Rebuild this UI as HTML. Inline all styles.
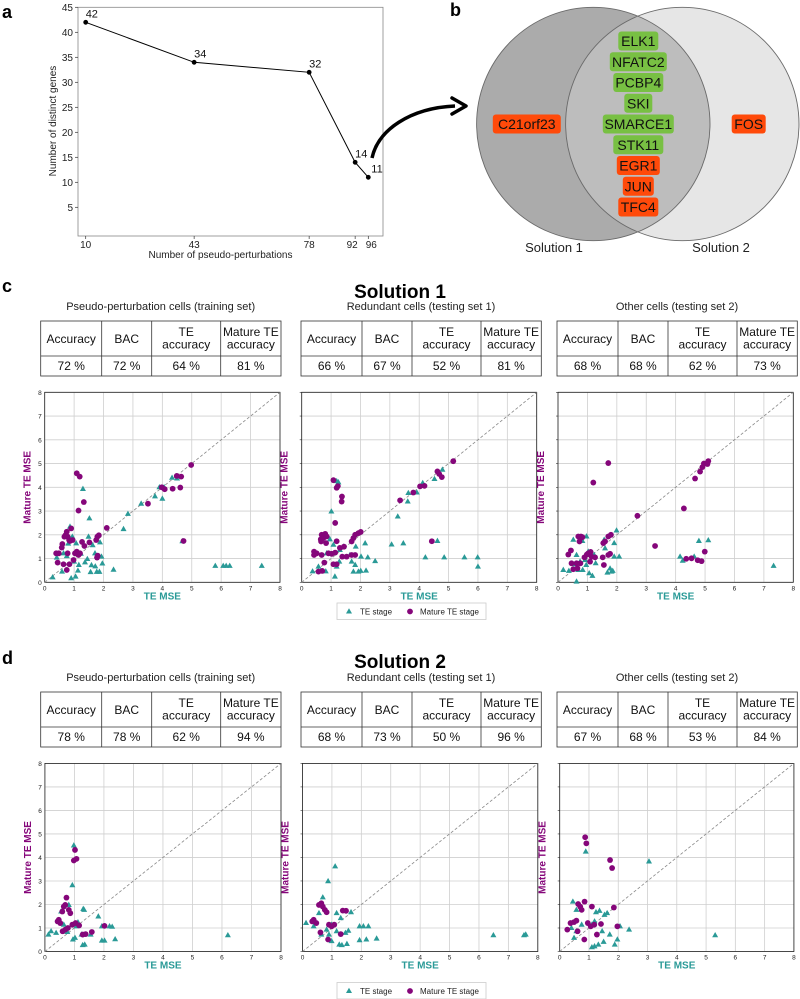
<!DOCTYPE html>
<html><head><meta charset="utf-8"><style>
html,body{margin:0;padding:0;background:#fff;}
svg{display:block;font-family:"Liberation Sans","DejaVu Sans",sans-serif;}
</style></head><body>
<svg id="fig" width="800" height="999" viewBox="0 0 800 999" xmlns="http://www.w3.org/2000/svg">
<defs>
<clipPath id="leftClip"><circle cx="593.3" cy="124" r="116.7"/></clipPath>
</defs>
<text x="2" y="18" font-size="18" font-weight="bold">a</text>
<text x="450" y="16" font-size="18" font-weight="bold">b</text>
<text x="2" y="292" font-size="18" font-weight="bold">c</text>
<text x="2" y="664" font-size="18" font-weight="bold">d</text>
<g id="lineChart"></g>
<g id="venn">
<circle cx="593.3" cy="124" r="116.7" fill="#ababab"/>
<circle cx="682.3" cy="124" r="116.7" fill="#e6e6e6"/>
<circle cx="682.3" cy="124" r="116.7" fill="#bdbdbd" clip-path="url(#leftClip)"/>
<circle cx="593.3" cy="124" r="116.7" fill="none" stroke="#6a6a6a" stroke-width="0.9"/>
<circle cx="682.3" cy="124" r="116.7" fill="none" stroke="#6a6a6a" stroke-width="0.9"/>
<text x="554" y="252" font-size="13" text-anchor="middle" fill="#222">Solution 1</text>
<text x="721" y="252" font-size="13" text-anchor="middle" fill="#222">Solution 2</text>
<path d="M372,158 C378,130 410,108 455,106" fill="none" stroke="#000" stroke-width="3.5"/>
<path d="M452,98 L466,106 L452,114" fill="none" stroke="#000" stroke-width="3.5" stroke-linecap="round" stroke-linejoin="round"/>
</g>
<g id="genes"></g>
<text x="400" y="298" font-size="19" font-weight="bold" text-anchor="middle">Solution 1</text>
<text x="400" y="668" font-size="19" font-weight="bold" text-anchor="middle">Solution 2</text>
<g id="tables"></g>
<g id="scatters"></g>
</svg>
<script>
const NS="http://www.w3.org/2000/svg";
const svg=document.getElementById('fig');
function mk(tag,attrs,parent){const e=document.createElementNS(NS,tag);for(const k in attrs)e.setAttribute(k,attrs[k]);(parent||svg).appendChild(e);return e;}

/* ---------- line chart data ---------- */
const perturbations=[10,43,78,92,96];
const distinctGenes=[42,34,32,14,11];
const lineYTicks=[5,10,15,20,25,30,35,40,45];

/* ---------- venn gene data ---------- */
const sharedGenes=["ELK1","NFATC2","PCBP4","SKI","SMARCE1","STK11","EGR1","JUN","TFC4"];
const sharedColors=["g","g","g","g","g","g","r","r","r"];

/* ---------- tables ---------- */
const tableHeaders=["Accuracy","BAC","TE\naccuracy","Mature TE\naccuracy"];
const subtitles=["Pseudo-perturbation cells (training set)","Redundant cells (testing set 1)","Other cells (testing set 2)"];
const sol1Values=[["72 %","72 %","64 %","81 %"],["66 %","67 %","52 %","81 %"],["68 %","68 %","62 %","73 %"]];
const sol2Values=[["78 %","78 %","62 %","94 %"],["68 %","73 %","50 %","96 %"],["67 %","68 %","53 %","84 %"]];

/* ---------- scatter data: solution 1 ---------- */
const s1p1TeX=[0.27,1.30,1.52,2.34,2.68,2.83,3.28,3.75,3.9,4.0,4.06,4.33,4.5,4.68,5.8,6.07,6.17,6.29,7.38,0.41,0.59,0.75,0.8,0.9,1.0,1.05,1.13,1.16,1.23,1.37,1.45,1.56,1.59,1.63,1.72,1.77,1.86,1.88,1.93,1.96,0.94,0.86,0.64,1.07,1.49,1.71];
const s1p1TeY=[0.21,3.93,2.69,0.53,2.24,2.88,3.31,3.62,4.0,3.52,4.0,4.4,4.37,1.73,0.69,0.69,0.69,0.69,0.69,1.04,0.45,1.1,1.63,0.17,0.87,0.24,0.49,0.73,1.2,0.84,0.98,0.43,0.72,1.56,0.67,0.44,0.44,1.68,1.08,0.79,1.92,2.34,1.22,1.64,1.92,1.22];
const s1p1MatX=[0.39,0.48,0.44,0.58,0.6,0.67,0.71,0.75,0.78,0.83,0.9,0.86,0.75,0.64,0.84,0.78,0.98,0.95,1.03,1.09,1.15,1.2,1.09,1.19,1.15,1.33,1.27,1.35,1.52,1.75,1.79,1.84,1.8,1.78,2.11,3.51,3.98,4.08,4.35,4.49,4.64,4.61,4.72,4.98];
const s1p1MatY=[1.22,1.22,0.83,1.46,1.61,1.92,1.99,2.13,1.92,1.78,2.27,1.74,0.52,0.76,0.76,1.22,0.94,1.78,1.22,1.29,1.15,1.22,4.59,4.45,3.02,3.38,1.7,1.53,1.68,1.78,1.92,1.98,1.12,1.04,2.29,3.31,4.0,3.92,3.94,4.48,4.45,3.99,1.74,4.94];

const s1p2TeX=[0.37,0.57,0.82,1.01,0.96,1.08,1.13,1.19,1.28,1.25,1.19,1.42,1.7,1.76,1.84,1.93,2.02,2.01,2.16,2.19,2.25,2.5,3.06,3.27,3.46,3.63,3.61,3.92,4.12,4.21,4.52,4.62,4.85,4.79,5.54,5.99,6.0,0.85,0.45,1.3,1.64,1.82];
const s1p2TeY=[0.46,0.66,0.46,2.98,1.81,1.58,0.24,0.66,0.87,4.21,4.26,1.5,0.87,0.45,1.5,0.45,1.08,0.48,1.64,0.49,1.05,0.89,1.59,2.77,1.64,3.76,3.4,3.78,4.18,1.05,4.35,1.74,1.05,4.74,1.05,1.05,0.66,1.22,1.22,1.36,1.15,0.73];
const s1p2MatX=[0.42,0.42,0.51,0.68,0.77,0.7,0.57,0.65,0.68,0.74,0.8,0.85,0.83,0.66,0.91,1.02,1.08,1.19,1.14,1.08,1.19,1.23,1.37,1.36,1.14,1.19,1.3,1.44,1.38,1.53,1.7,1.76,1.82,1.93,2.01,1.7,1.82,3.35,3.8,4.03,4.18,4.43,4.62,4.68,4.77,5.16];
const s1p2MatY=[1.29,1.15,1.22,1.15,0.83,0.48,0.45,1.81,2.0,1.86,2.04,1.93,1.65,1.72,1.22,1.2,0.76,0.76,1.25,4.3,3.98,4.05,3.61,3.4,2.5,1.73,1.45,1.5,1.08,1.08,1.72,1.86,2.0,2.07,2.12,1.15,1.15,3.45,3.78,4.04,4.06,1.73,4.67,4.56,4.43,5.1];

const s1p3TeX=[0.18,0.37,0.52,0.63,0.63,0.58,0.69,0.83,0.97,0.84,0.96,1.06,1.17,1.03,1.23,1.28,1.57,1.6,1.68,1.77,1.82,1.86,1.91,1.91,1.99,2.08,4.15,4.24,4.63,4.79,5.11,7.33,0.92,0.75];
const s1p3TeY=[0.52,0.48,1.79,1.15,0.03,0.76,0.52,1.74,1.93,0.52,0.73,0.38,0.27,1.29,1.15,0.8,1.79,1.43,0.41,0.58,0.45,0.48,1.65,1.08,2.18,1.08,1.08,0.91,1.08,1.74,1.77,0.69,0.94,0.87];
const s1p3MatX=[0.35,0.44,0.46,0.52,0.63,0.66,0.76,0.69,0.73,0.78,0.83,0.9,0.98,1.03,1.11,1.14,1.09,1.26,1.2,1.71,1.52,1.56,1.54,1.6,1.71,1.8,1.71,1.77,2.7,3.3,4.28,4.36,4.54,4.66,4.75,4.83,4.88,4.91,4.96,4.99,5.08,5.11];
const s1p3MatY=[1.17,1.34,0.8,0.55,0.8,0.59,0.8,1.93,1.72,1.93,1.9,1.05,1.17,1.22,1.28,1.08,0.87,1.05,4.2,5.02,1.05,0.73,1.65,1.72,1.93,2.0,1.15,1.2,2.8,1.53,3.11,0.99,1.01,4.37,0.93,4.66,0.89,4.85,5.0,1.29,4.98,5.1];

/* ---------- scatter data: solution 2 ---------- */
const s2p1TeX=[0.98,0.93,0.81,0.21,1.3,1.33,1.81,1.12,1.07,0.95,1.02,1.28,1.35,1.24,1.55,1.93,2.02,1.93,2.19,2.28,2.38,6.2,0.12,0.38,0.64,0.76,0.55];
const s2p1TeY=[4.51,2.82,1.98,0.86,1.81,1.77,1.49,1.24,1.07,0.51,0.58,0.27,0.29,0.72,0.72,0.46,0.46,1.07,1.07,1.05,0.52,0.69,0.72,0.79,1.14,0.83,1.7];
const s2p1MatX=[0.43,0.47,0.52,0.59,0.64,0.69,0.6,0.69,0.78,0.73,0.81,0.86,0.93,1.04,0.98,1.07,1.02,1.16,1.28,1.38,1.59,2.02];
const s2p1MatY=[1.28,1.35,1.21,1.7,1.91,1.98,0.86,0.93,1.0,2.29,1.77,1.63,1.14,1.21,3.87,3.94,4.32,1.11,0.72,0.74,0.83,1.09];

const s2p2TeX=[1.11,0.87,0.69,0.56,1.16,1.65,1.3,0.99,1.16,1.46,1.56,1.25,1.34,1.51,1.94,2.07,2.24,1.94,2.17,2.52,6.49,7.53,7.59,0.12,0.38,0.64,0.9,0.99,0.82];
const s2p2TeY=[3.62,2.99,2.3,1.63,1.63,1.67,1.42,1.14,0.86,0.79,0.88,0.29,0.27,0.32,1.07,1.07,1.07,0.48,0.51,0.55,0.69,0.69,0.72,1.21,1.07,0.72,0.72,0.44,0.93];
const s2p2MatX=[0.38,0.47,0.33,0.56,0.64,0.69,0.76,0.82,0.61,0.9,0.99,1.08,0.87,1.3,1.37,1.48];
const s2p2MatY=[1.35,1.21,1.28,1.98,2.05,1.91,1.77,1.67,0.81,1.14,1.07,1.14,0.51,0.74,1.74,1.73];

const s2p3TeX=[0.89,0.45,0.57,0.75,0.49,1.1,1.24,1.36,1.53,1.62,1.19,1.45,1.71,1.1,1.19,1.32,1.5,1.88,1.97,2.06,2.37,3.05,5.31,0.4,0.57];
const s2p3TeY=[4.25,2.12,1.77,1.14,0.58,1.14,1.67,1.73,1.56,1.63,1.28,0.86,0.72,0.18,0.22,0.29,0.41,0.29,0.51,1.07,0.93,3.83,0.69,1.0,0.86];
const s2p3MatX=[0.85,0.84,0.26,0.37,0.49,0.57,0.63,0.7,0.75,0.61,0.96,1.06,1.18,0.87,0.91,1.1,1.27,1.41,1.72,1.79,1.85,1.97];
const s2p3MatY=[2.12,0.51,0.93,1.21,1.25,1.31,2.02,1.91,1.77,0.86,1.21,1.07,1.14,4.86,4.6,1.91,0.72,1.17,3.89,3.55,1.87,1.07];

const scatterTicks=[0,1,2,3,4,5,6,7,8];

/* ================= LINE CHART ================= */
(function(){
  const g=document.getElementById('lineChart');
  const L=78,R=383,T=7.3,B=236;
  const xs=v=>85.7+(v-10)*(368.3-85.7)/86;
  const ys=v=>232.3-v*5;
  const frame=mk('rect',{x:L,y:T,width:R-L,height:B-T,fill:'none',stroke:'#888','stroke-width':0.8},g);
  
  
  lineYTicks.forEach(t=>{
    mk('line',{x1:L-3,x2:L,y1:ys(t),y2:ys(t),stroke:'#333','stroke-width':0.7},g);
    const tx=mk('text',{x:L-5,y:ys(t)+3.5,'font-size':10,'text-anchor':'end',fill:'#222'},g);
    tx.textContent=t;
    
    
  });
  perturbations.forEach(p=>{
    mk('line',{x1:xs(p),x2:xs(p),y1:B,y2:B+3,stroke:'#333','stroke-width':0.7},g);
  });
  const xLabels=[[10,xs(10)],[43,xs(43)],[78,xs(78)],[92,xs(92)-3],[96,xs(96)+3]];
  xLabels.forEach(([v,px])=>{
    const tx=mk('text',{x:px,y:B+12,'font-size':10,'text-anchor':'middle',fill:'#222'},g);
    tx.textContent=v;
    
    
  });
  const xt=mk('text',{x:(L+R)/2-10,y:258,'font-size':10,'text-anchor':'middle',fill:'#222'},g);
  xt.textContent='Number of pseudo-perturbations';
  
  
  const yt=mk('text',{x:0,y:0,'font-size':10,'text-anchor':'middle',fill:'#222',transform:'translate(56,121) rotate(-90)'},g);
  yt.textContent='Number of distinct genes';
  
  
  const pts=perturbations.map((p,i)=>xs(p)+','+ys(distinctGenes[i])).join(' ');
  const pl=mk('polyline',{points:pts,fill:'none',stroke:'#000','stroke-width':1},g);
  
  
  perturbations.forEach((p,i)=>{
    const c=mk('circle',{cx:xs(p),cy:ys(distinctGenes[i]),r:2.4,fill:'#000'},g);
    
    
    const lab=mk('text',{x:xs(p)+(i===4?3:0),y:ys(distinctGenes[i])-5,'font-size':11,fill:'#111'},g);
    lab.textContent=distinctGenes[i];
    
    
  });
})();

/* ================= VENN GENES ================= */
(function(){
  const g=document.getElementById('genes');
  const widths={ELK1:40,NFATC2:57,PCBP4:50,SKI:28,SMARCE1:71,STK11:50,EGR1:43,JUN:31,TFC4:40};
  function tag(name,cx,cy,w,col){
    const r=mk('rect',{x:cx-w/2,y:cy-9.5,width:w,height:19,rx:3,fill:col==='g'?'#78c043':'#ff4a0a'},g);
    
    
    const t=mk('text',{x:cx,y:cy+5,'font-size':14,'text-anchor':'middle',fill:'#111'},g);
    t.textContent=name;
  }
  sharedGenes.forEach((n,i)=>tag(n,638.3,41+i*20.75,widths[n],sharedColors[i]));
  tag('C21orf23',526.8,124,68,'r');
  tag('FOS',748.7,124,34,'r');
})();

/* ================= TABLES ================= */
(function(){
  const g=document.getElementById('tables');
  const starts=[40.7,301,557];
  const cols=[0,61,111,180,240.3];
  function table(x0,top,vals,sub){
    const st=mk('text',{x:x0+120,y:top-11,'font-size':11,'text-anchor':'middle',fill:'#222'},g);
    st.textContent=sub;
    
    
    const mid=top+35,bot=top+55;
    const fr=mk('rect',{x:x0,y:top,width:240.3,height:55,fill:'#fff',stroke:'#333','stroke-width':0.8},g);
    
    
    mk('line',{x1:x0,x2:x0+240.3,y1:mid,y2:mid,stroke:'#333','stroke-width':0.8},g);
    for(let i=1;i<4;i++)mk('line',{x1:x0+cols[i],x2:x0+cols[i],y1:top,y2:bot,stroke:'#333','stroke-width':0.8},g);
    for(let i=0;i<4;i++){
      const cx=x0+(cols[i]+cols[i+1])/2;
      const lines=tableHeaders[i].split('\n');
      lines.forEach((ln,k)=>{
        const t=mk('text',{x:cx,y:(lines.length===1?mid-13:mid-20+k*12.5),'font-size':12,'text-anchor':'middle',fill:'#111'},g);
        t.textContent=ln;
      });
      const v=mk('text',{x:cx,y:bot-6,'font-size':12,'text-anchor':'middle',fill:'#111'},g);
      v.textContent=vals[i];
      
      
    }
  }
  for(let i=0;i<3;i++){table(starts[i],321,sol1Values[i],subtitles[i]);table(starts[i],692,sol2Values[i],subtitles[i]);}
})();

/* ================= SCATTERS ================= */
(function(){
  const g=document.getElementById('scatters');
  const TEAL='#2a9a97',PURP='#85067a';
  const panels=[
    {x0:44.7,x8:280,y8:392.3,y0:582.3,tx:s1p1TeX,ty:s1p1TeY,mx:s1p1MatX,my:s1p1MatY},
    {x0:301.7,x8:536.7,y8:392.3,y0:582.3,tx:s1p2TeX,ty:s1p2TeY,mx:s1p2MatX,my:s1p2MatY},
    {x0:558,x8:793.3,y8:392.3,y0:582.3,tx:s1p3TeX,ty:s1p3TeY,mx:s1p3MatX,my:s1p3MatY},
    {x0:44.9,x8:281,y8:763.4,y0:951.5,tx:s2p1TeX,ty:s2p1TeY,mx:s2p1MatX,my:s2p1MatY},
    {x0:302.5,x8:537.8,y8:763.4,y0:951.5,tx:s2p2TeX,ty:s2p2TeY,mx:s2p2MatX,my:s2p2MatY},
    {x0:559.7,x8:793.9,y8:763.4,y0:951.5,tx:s2p3TeX,ty:s2p3TeY,mx:s2p3MatX,my:s2p3MatY}
  ];
  panels.forEach((p,idx)=>{
    const pg=mk('g',{},g);
    
    
    const xs=v=>p.x0+v*(p.x8-p.x0)/8;
    const ys=v=>p.y0-v*(p.y0-p.y8)/8;
    scatterTicks.forEach(t=>{
      mk('line',{x1:xs(t),x2:xs(t),y1:p.y8,y2:p.y0,stroke:'#cfcfcf','stroke-width':0.8},pg);
      mk('line',{x1:p.x0,x2:p.x8,y1:ys(t),y2:ys(t),stroke:'#cfcfcf','stroke-width':0.8},pg);
      const xl=mk('text',{x:xs(t),y:p.y0+8,'font-size':6.5,'text-anchor':'middle',fill:'#222'},pg);
      xl.textContent=t;
      
      
      if(idx%3===0){
        const yl=mk('text',{x:p.x0-3,y:ys(t)+2.5,'font-size':6.5,'text-anchor':'end',fill:'#222'},pg);
        yl.textContent=t;
        
        
      } else {
        mk('line',{x1:p.x0-2,x2:p.x0,y1:ys(t),y2:ys(t),stroke:'#333','stroke-width':0.6},pg);
      }
    });
    mk('rect',{x:p.x0,y:p.y8,width:p.x8-p.x0,height:p.y0-p.y8,fill:'none',stroke:'#222','stroke-width':0.8},pg);
    const diag=mk('line',{x1:xs(0),y1:ys(0),x2:xs(8),y2:ys(8),stroke:'#888','stroke-width':0.8,'stroke-dasharray':'3,2'},pg);
    
    
    p.tx.forEach((v,i)=>{
      const cx=xs(v),cy=ys(p.ty[i]);
      const tr=mk('polygon',{points:`${cx},${cy-3.3} ${cx-3},${cy+2} ${cx+3},${cy+2}`,fill:TEAL},pg);
      
      
    });
    p.mx.forEach((v,i)=>{
      const c=mk('circle',{cx:xs(v),cy:ys(p.my[i]),r:2.9,fill:PURP},pg);
      
      
    });
    const xt=mk('text',{x:(p.x0+p.x8)/2,y:p.y0+17,'font-size':10,'font-weight':'bold','text-anchor':'middle',fill:TEAL},pg);
    xt.textContent='TE MSE';
    
    
    const yt=mk('text',{x:0,y:0,'font-size':10,'font-weight':'bold','text-anchor':'middle',fill:PURP,transform:`translate(${p.x0-14},${(p.y0+p.y8)/2}) rotate(-90)`},pg);
    yt.textContent='Mature TE MSE';
    
    
  });
  [603,982.5].forEach(ly=>{
    const lg=mk('g',{},g);
    
    
    mk('rect',{x:337,y:ly,width:149,height:16.5,fill:'#fff',stroke:'#ccc','stroke-width':0.8},lg);
    const cx=349,cy=ly+8.5;
    mk('polygon',{points:`${cx},${cy-3.3} ${cx-3},${cy+2} ${cx+3},${cy+2}`,fill:TEAL},lg);
    const t1=mk('text',{x:360,y:cy+3,'font-size':8,fill:'#222'},lg);
    t1.textContent='TE stage';
    
    
    mk('circle',{cx:410,cy:cy,r:2.9,fill:PURP},lg);
    const t2=mk('text',{x:420,y:cy+3,'font-size':8,fill:'#222'},lg);
    t2.textContent='Mature TE stage';
    
    
  });
})();
</script>
</body></html>
